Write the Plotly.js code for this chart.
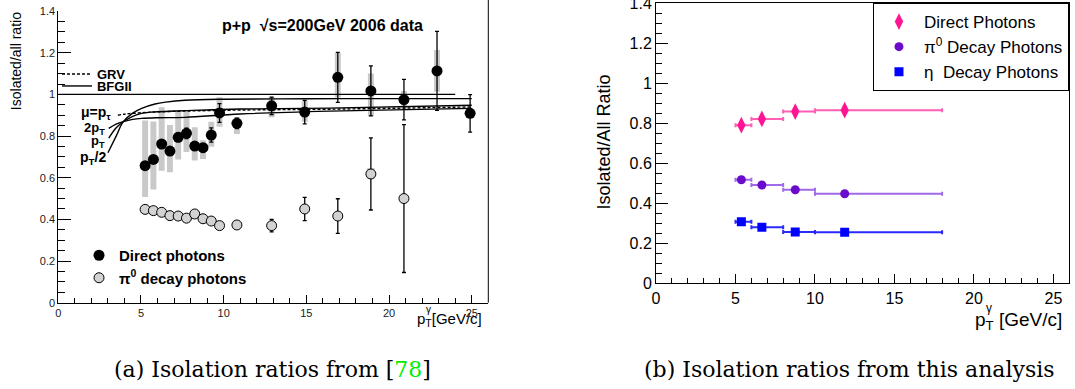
<!DOCTYPE html>
<html>
<head>
<meta charset="utf-8">
<script src="https://cdn.plot.ly/plotly-3.0.1.min.js"></script>
<style>html,body{margin:0;padding:0;background:#fff;}#plot{width:1075px;height:389px;}</style>
</head>
<body>
<div id="plot"></div>
<script>
// ---------- Panel (a): PHENIX isolation ratios ----------
const directX    = [5.25,5.75,6.25,6.75,7.25,7.75,8.25,8.75,9.25,9.75,10.8,12.9,14.9,16.9,18.9,20.9,22.9,24.9];
const directY    = [0.658,0.688,0.762,0.728,0.794,0.813,0.752,0.744,0.805,0.911,0.861,0.945,0.915,1.082,1.017,0.975,1.113,0.909];
const directStat = [0.012,0.012,0.012,0.012,0.02,0.025,0.02,0.02,0.034,0.045,0.025,0.042,0.056,0.12,0.12,0.097,0.19,0.09];
const directSysLo = [0.507,0.544,0.634,0.626,0.688,0.723,0.683,0.690,0.749,0.845,0.810,0.890,0.869,0.985,0.895,0.928,1.013,null];
const directSysHi = [0.875,0.870,0.938,0.853,0.918,0.918,0.842,0.780,0.869,0.986,0.890,0.989,0.970,1.200,1.100,1.016,1.213,null];

const pi0X    = [5.25,5.75,6.25,6.75,7.25,7.75,8.25,8.75,9.25,9.75,10.8,12.9,14.9,16.9,18.9,20.9];
const pi0Y    = [0.448,0.442,0.434,0.418,0.416,0.406,0.426,0.403,0.392,0.370,0.373,0.370,0.450,0.416,0.618,0.500];
const pi0Stat = [0.01,0.01,0.01,0.01,0.01,0.01,0.01,0.01,0.01,0.01,0.015,0.03,0.056,0.083,0.173,0.355];
const pi0SysLo = [null,null,null,null,null,null,null,null,null,null,null,null,null,null,0.595,null];
const pi0SysHi = [null,null,null,null,null,null,null,null,null,null,null,null,null,null,0.645,null];

// NLO theory curves
const unityX = [0, 24];
const unityY = [1, 1];
const bfgHalfX = [3.0,3.5,3.93,4.5,5.04,5.85,6.5,7.66,10,15,20,25];
const bfgHalfY = [0.72,0.80,0.869,0.91,0.933,0.954,0.963,0.972,0.977,0.979,0.980,0.980];
const bfgOneX  = [3.05,3.5,3.93,4.5,5.04,6,7.66,11,16.4,25];
const bfgOneY  = [0.790,0.840,0.869,0.895,0.909,0.917,0.922,0.930,0.934,0.948];
const bfgTwoX  = [3.05,3.5,3.93,4.5,5.04,6,7.66,11,16.4,25];
const bfgTwoY  = [0.837,0.857,0.869,0.880,0.885,0.888,0.890,0.906,0.920,0.933];
const grvX = [3.6,4,5,6,7.66,11,16.4,25];
const grvY = [0.900,0.905,0.912,0.916,0.920,0.925,0.929,0.940];

// ---------- Panel (b): this analysis ----------
const binLo = [5,6,8,10];
const binHi = [6,8,10,18];
const bX      = [5.37,6.66,8.76,11.87];
const bDirect = [0.791,0.822,0.859,0.866];
const bPi0    = [0.518,0.492,0.468,0.448];
const bEta    = [0.308,0.281,0.257,0.255];

const xErrPlus  = bX.map((v,i)=>binHi[i]-v);
const xErrMinus = bX.map((v,i)=>v-binLo[i]);

const sans = 'Liberation Sans, Arial, sans-serif';
const serif = 'DejaVu Serif, serif';

const traces = [
  {type:'bar', x:directX, y:directSysHi.map((h,i)=>h==null?null:h-directSysLo[i]), base:directSysLo,
   width:0.36, marker:{color:'#c9c9c9', line:{width:0}}, xaxis:'x', yaxis:'y', showlegend:false, hoverinfo:'skip'},
  {type:'bar', x:pi0X, y:pi0SysHi.map((h,i)=>h==null?null:h-pi0SysLo[i]), base:pi0SysLo,
   width:0.5, marker:{color:'#c9c9c9', line:{width:0}}, xaxis:'x', yaxis:'y', showlegend:false, hoverinfo:'skip'},
  {type:'scatter', mode:'lines', x:unityX, y:unityY, line:{color:'black', width:1.3}, xaxis:'x', yaxis:'y', showlegend:false},
  {type:'scatter', mode:'lines', x:bfgHalfX, y:bfgHalfY, line:{color:'black', width:1.4, shape:'spline'}, xaxis:'x', yaxis:'y', showlegend:false},
  {type:'scatter', mode:'lines', x:bfgOneX, y:bfgOneY, name:'BFGII', legend:'legend4', line:{color:'black', width:1.4, shape:'spline'}, xaxis:'x', yaxis:'y', showlegend:true},
  {type:'scatter', mode:'lines', x:bfgTwoX, y:bfgTwoY, line:{color:'black', width:1.4, shape:'spline'}, xaxis:'x', yaxis:'y', showlegend:false},
  {type:'scatter', mode:'lines', x:grvX, y:grvY, name:'GRV', legend:'legend3', line:{color:'black', width:1.4, dash:'3px,2px', shape:'spline'}, xaxis:'x', yaxis:'y', showlegend:true},
  {type:'scatter', mode:'markers', x:directX, y:directY, name:'Direct photons', legend:'legend2',
   error_y:{type:'data', array:directStat, color:'black', thickness:1.3, width:2},
   marker:{color:'black', size:11, symbol:'circle'}, xaxis:'x', yaxis:'y'},
  {type:'scatter', mode:'markers', x:pi0X, y:pi0Y, name:'π<sup>0</sup> decay photons', legend:'legend2',
   error_y:{type:'data', array:pi0Stat, color:'black', thickness:1.3, width:2},
   marker:{color:'#d2d2d2', size:10, symbol:'circle', line:{color:'black', width:1}}, xaxis:'x', yaxis:'y'},

  {type:'scatter', mode:'markers', x:bX, y:bDirect, name:'Direct Photons', legend:'legend',
   error_x:{type:'data', symmetric:false, array:xErrPlus, arrayminus:xErrMinus, color:'#ff5fb4', thickness:2, width:2},
   marker:{color:'#ff1493', size:12, symbol:'diamond-tall'}, xaxis:'x2', yaxis:'y2'},
  {type:'scatter', mode:'markers', x:bX, y:bPi0, name:'π<sup>0</sup> Decay Photons', legend:'legend',
   error_x:{type:'data', symmetric:false, array:xErrPlus, arrayminus:xErrMinus, color:'#a16ae8', thickness:2, width:2},
   marker:{color:'#6a0acd', size:9, symbol:'circle'}, xaxis:'x2', yaxis:'y2'},
  {type:'scatter', mode:'markers', x:bX, y:bEta, name:'η  Decay Photons', legend:'legend',
   error_x:{type:'data', symmetric:false, array:xErrPlus, arrayminus:xErrMinus, color:'#2a2aff', thickness:2, width:2},
   marker:{color:'#0000ff', size:9, symbol:'square'}, xaxis:'x2', yaxis:'y2'}
];

const axBase = {showline:true, linecolor:'black', linewidth:1, ticks:'inside', tickcolor:'black',
  showgrid:false, zeroline:false, fixedrange:true, ticklabeloverflow:'allow'};

const layout = {
  width:1075, height:389, margin:{l:0,r:0,t:0,b:0},
  paper_bgcolor:'white', plot_bgcolor:'white', barmode:'overlay', showlegend:true,
  font:{family:sans, color:'black'},
  xaxis: Object.assign({}, axBase, {domain:[0.05423,0.45423], range:[0,26], anchor:'y', tick0:0, dtick:5, ticklen:8,
    minor:{dtick:1, ticklen:5, ticks:'inside', tickcolor:'black'}, tickfont:{family:sans, size:11, color:'#222'}}),
  yaxis: Object.assign({}, axBase, {domain:[0.2219,0.9717], range:[0,1.4005], anchor:'x', tick0:0, dtick:0.2, ticklen:13,
    minor:{dtick:0.05, ticklen:7, ticks:'inside', tickcolor:'black'}, tickfont:{family:sans, size:11, color:'#222'}}),
  xaxis2: Object.assign({}, axBase, {domain:[0.61023,0.9947], range:[0,26], anchor:'y2', mirror:true, tick0:0, dtick:5, ticklen:9,
    minor:{dtick:1, ticklen:5, ticks:'inside', tickcolor:'black'}, tickfont:{family:sans, size:16, color:'black'}}),
  yaxis2: Object.assign({}, axBase, {domain:[0.2717,0.9915], range:[0,1.4005], anchor:'x2', mirror:true, tick0:0, dtick:0.2, ticklen:12,
    minor:{dtick:0.05, ticklen:6, ticks:'inside', tickcolor:'black'}, tickfont:{family:sans, size:16, color:'black'}}),
  legend:{x:0.9944, xanchor:'right', y:0.9923, yanchor:'top', bordercolor:'black', borderwidth:1, bgcolor:'white',
    font:{family:sans, size:17, color:'black'}, tracegroupgap:0, itemwidth:40},
  legend2:{x:0.0735, xanchor:'left', y:0.3149, yanchor:'middle', bgcolor:'rgba(0,0,0,0)', borderwidth:0,
    font:{family:sans, size:15, weight:'bold', color:'black'}},
  legend3:{x:0.053, xanchor:'left', y:0.8098, yanchor:'middle', bgcolor:'rgba(0,0,0,0)', borderwidth:0,
    font:{family:sans, size:13, weight:'bold', color:'black'}},
  legend4:{x:0.053, xanchor:'left', y:0.7789, yanchor:'middle', bgcolor:'rgba(0,0,0,0)', borderwidth:0,
    font:{family:sans, size:13, weight:'bold', color:'black'}},
  shapes:[
    {type:'line', xref:'x domain', yref:'paper', x0:1, x1:1, y0:0.2219, y1:1, line:{color:'black', width:1}}
  ],
  annotations:[
    {xref:'x', yref:'y', x:9.78, y:1.333, xanchor:'left', yanchor:'middle', showarrow:false,
     text:'p+p  √s=200GeV 2006 data', font:{family:sans, size:16, weight:'bold', color:'black'}},
    {xref:'x', yref:'y', x:3.3, y:0.912, xanchor:'right', yanchor:'middle', showarrow:false,
     text:'μ=p<sub>τ</sub>', font:{family:sans, size:14, weight:'bold', color:'black'}},
    {xref:'x', yref:'y', x:2.95, y:0.838, xanchor:'right', yanchor:'middle', showarrow:false,
     text:'2p<sub>T</sub>', font:{family:sans, size:13, weight:'bold', color:'black'}},
    {xref:'x', yref:'y', x:2.95, y:0.774, xanchor:'right', yanchor:'middle', showarrow:false,
     text:'p<sub>T</sub>', font:{family:sans, size:13, weight:'bold', color:'black'}},
    {xref:'x', yref:'y', x:3.0, y:0.694, xanchor:'right', yanchor:'middle', showarrow:false,
     text:'p<sub>T</sub>/2', font:{family:sans, size:14, weight:'bold', color:'black'}},
    {xref:'paper', yref:'paper', x:0.0149, y:0.974, xanchor:'center', yanchor:'top', textangle:-90, showarrow:false,
     text:'Isolated/all ratio', font:{family:sans, size:14, color:'black'}},
    // left x title: p_T with stacked gamma
    {xref:'paper', yref:'paper', x:415/1075, y:0.1774, xanchor:'left', yanchor:'middle', showarrow:false,
     text:'p<sub>T</sub>[GeV/c]', font:{family:sans, size:15, color:'black'}},
    {xref:'paper', yref:'paper', x:423.5/1075, y:0.205, xanchor:'left', yanchor:'middle', showarrow:false,
     text:'γ', font:{family:sans, size:10, color:'black'}},
    {xref:'paper', yref:'paper', x:0.5614, y:0.635, xanchor:'center', yanchor:'middle', textangle:-90, showarrow:false,
     text:'Isolated/All Ratio', font:{family:sans, size:18, color:'black'}},
    // right x title
    {xref:'paper', yref:'paper', x:973/1075, y:0.1748, xanchor:'left', yanchor:'middle', showarrow:false,
     text:'p<sub>T</sub> [GeV/c]', font:{family:sans, size:19, color:'black'}},
    {xref:'paper', yref:'paper', x:984/1075, y:0.209, xanchor:'left', yanchor:'middle', showarrow:false,
     text:'γ', font:{family:sans, size:12, color:'black'}},
    {xref:'paper', yref:'paper', x:0.2535, y:0.0514, xanchor:'center', yanchor:'middle', showarrow:false,
     text:'(a) Isolation ratios from [<span style="color:#00ee00">78</span>]', font:{family:serif, size:22, color:'black'}},
    {xref:'paper', yref:'paper', x:0.7898, y:0.0514, xanchor:'center', yanchor:'middle', showarrow:false,
     text:'(b) Isolation ratios from this analysis', font:{family:serif, size:22, color:'black'}}
  ]
};

Plotly.newPlot('plot', traces, layout, {staticPlot:true, displayModeBar:false});
</script>
</body>
</html>
